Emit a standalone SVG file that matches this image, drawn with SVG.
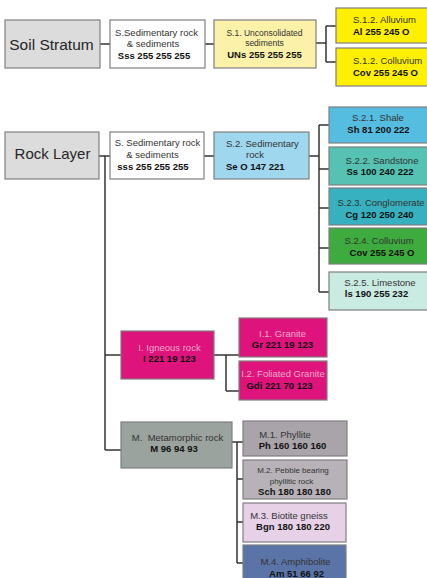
<svg xmlns="http://www.w3.org/2000/svg" width="427" height="578" viewBox="0 0 427 578">
<style>
text{font-family:"Liberation Sans",Arial,sans-serif;font-size:9.5px;fill:#333;text-anchor:middle}
.b{font-weight:bold;fill:#111}
.big{font-size:15.5px;fill:#262626}
.sm{font-size:8.5px}
.xs{font-size:8px}
.lt{fill:#EBA8CB}
.st{text-anchor:start}
.n rect{stroke:#7f7f7f;stroke-width:1.2}
.c line{stroke:#333;stroke-width:1.5}
</style>
<rect x="0" y="0" width="427" height="578" fill="#fff"/>
<g class="c" id="connectors">
<line x1="100" y1="44" x2="110" y2="44"/>
<line x1="205" y1="44" x2="214" y2="44"/>
<line x1="316" y1="43" x2="326" y2="43"/>
<line x1="326" y1="26" x2="326" y2="62"/>
<line x1="326" y1="26" x2="336" y2="26"/>
<line x1="326" y1="62" x2="336" y2="62"/>
<line x1="99" y1="156" x2="110" y2="156"/>
<line x1="105" y1="156" x2="105" y2="450"/>
<line x1="204" y1="156" x2="214" y2="156"/>
<line x1="309" y1="156" x2="319" y2="156"/>
<line x1="319" y1="125" x2="319" y2="292"/>
<line x1="319" y1="125" x2="329" y2="125"/>
<line x1="319" y1="169" x2="329" y2="169"/>
<line x1="319" y1="208" x2="329" y2="208"/>
<line x1="319" y1="248" x2="329" y2="248"/>
<line x1="319" y1="292" x2="329" y2="292"/>
<line x1="105" y1="355" x2="121" y2="355"/>
<line x1="214" y1="355" x2="239" y2="355"/>
<line x1="226" y1="355" x2="226" y2="391"/>
<line x1="226" y1="391" x2="239" y2="391"/>
<line x1="105" y1="450" x2="121" y2="450"/>
<line x1="232" y1="442" x2="243" y2="442"/>
<line x1="237" y1="442" x2="237" y2="563"/>
<line x1="237" y1="479" x2="243" y2="479"/>
<line x1="237" y1="522" x2="243" y2="522"/>
<line x1="237" y1="563" x2="243" y2="563"/>
</g>
<g class="n" id="soil"><rect x="5" y="20" width="95" height="48" fill="#DCDCDC"/><text class="big" x="51.5" y="49.5">Soil Stratum</text></g>
<g class="n" id="sed1"><rect x="110" y="20" width="95" height="48" fill="#fff"/>
<text x="156.5" y="35.5">S.Sedimentary rock</text><text x="153" y="46.5">&amp; sediments</text><text class="b" x="154" y="58.5">Sss 255 255 255</text></g>
<g class="n" id="s1"><rect x="214" y="20" width="102" height="48" fill="#FBF1A9"/>
<text class="sm" x="264.5" y="36">S.1. Unconsolidated</text><text class="sm" x="264.5" y="46">sediments</text><text class="b" x="264.5" y="57.5">UNs 255 255 255</text></g>
<g class="n" id="alluvium"><rect x="336" y="8" width="100" height="35" fill="#FFF000"/>
<text class="st" x="353" y="22.5">S.1.2. Alluvium</text><text class="b st" x="353" y="34.5">Al 255 245 O</text></g>
<g class="n" id="colluvium1"><rect x="336" y="48" width="100" height="38" fill="#FFF000"/>
<text class="st" x="353" y="63.5">S.1.2. Colluvium</text><text class="b st" x="353" y="75.5">Cov 255 245 O</text></g>
<g class="n" id="rock"><rect x="5" y="132" width="94" height="47" fill="#DCDCDC"/><text class="big" x="52.5" y="158.5" style="font-size:15px">Rock Layer</text></g>
<g class="n" id="sed2"><rect x="110" y="132" width="94" height="47" fill="#fff"/>
<text x="157.5" y="145.5">S. Sedimentary rock</text><text x="152.5" y="157.5">&amp; sediments</text><text class="b" x="153" y="169.5">sss 255 255 255</text></g>
<g class="n" id="s2"><rect x="214" y="132" width="95" height="47" fill="#9FD7EE"/>
<text class="st" x="226" y="146.5">S.2. Sedimentary</text><text x="255" y="157.5">rock</text><text class="b st" x="226" y="169.5">Se O 147 221</text></g>
<g class="n" id="shale"><rect x="329" y="107" width="100" height="36" fill="#55BDE0"/>
<text x="378" y="120.5">S.2.1. Shale</text><text class="b" x="378.5" y="132.5">Sh 81 200 222</text></g>
<g class="n" id="sandstone"><rect x="329" y="147" width="100" height="38" fill="#55C2B3"/>
<text x="382" y="163.5">S.2.2. Sandstone</text><text class="b" x="380" y="174.5">Ss 100 240 222</text></g>
<g class="n" id="conglomerate"><rect x="329" y="188" width="100" height="37" fill="#37B1BF"/>
<text x="381" y="205.5">S.2.3. Conglomerate</text><text class="b" x="379.5" y="217.5">Cg 120 250 240</text></g>
<g class="n" id="colluvium2"><rect x="329" y="228" width="100" height="36" fill="#3DAB3D"/>
<text x="379" y="243.5">S.2.4. Colluvium</text><text class="b" x="382" y="255.5">Cov 255 245 O</text></g>
<g class="n" id="limestone"><rect x="329" y="272" width="100" height="38" fill="#C9EBE2"/>
<text x="380" y="285.5">S.2.5. Limestone</text><text class="b" x="376.5" y="296.5">ls 190 255 232</text></g>
<g class="n" id="igneous"><rect x="121" y="331" width="93" height="48" fill="#DE137C"/>
<text class="lt" x="169.5" y="350.5">I. Igneous rock</text><text class="b" x="169.5" y="361.5">I 221 19 123</text></g>
<g class="n" id="granite"><rect x="239" y="318" width="88" height="39" fill="#DE137C"/>
<text class="lt" x="282.5" y="336.5">I.1. Granite</text><text class="b" x="282.5" y="347.5">Gr 221 19 123</text></g>
<g class="n" id="foliated"><rect x="239" y="361" width="88" height="39" fill="#DE137C"/>
<text class="lt" x="283" y="376.5">I.2. Foliated Granite</text><text class="b" x="279.5" y="388.5">Gdi 221 70 123</text></g>
<g class="n" id="metamorphic"><rect x="121" y="422" width="111" height="46" fill="#9AA39E"/>
<text x="177.5" y="440.5" xml:space="preserve">M.  Metamorphic rock</text><text class="b" x="174" y="451.5">M 96 94 93</text></g>
<g class="n" id="phyllite"><rect x="243" y="421" width="104" height="35" fill="#A9A4A9"/>
<text x="285" y="437.5">M.1. Phyllite</text><text class="b" x="292.5" y="448.5">Ph 160 160 160</text></g>
<g class="n" id="pebble"><rect x="243" y="460" width="104" height="39" fill="#B7B2B7"/>
<text class="xs" x="293" y="473">M.2. Pebble bearing</text><text class="xs" x="291.5" y="484">phyllitic rock</text><text class="b" x="294.5" y="494.5">Sch 180 180 180</text></g>
<g class="n" id="biotite"><rect x="243" y="503" width="103" height="39" fill="#E6D1E6"/>
<text x="289" y="518.5">M.3. Biotite gneiss</text><text class="b" x="293" y="529.5">Bgn 180 180 220</text></g>
<g class="n" id="amphibolite"><rect x="243" y="545" width="103" height="40" fill="#5B74A8"/>
<text x="295.5" y="564.5">M.4. Amphibolite</text><text class="b" x="296.5" y="576.5">Am 51 66 92</text></g>
</svg>
